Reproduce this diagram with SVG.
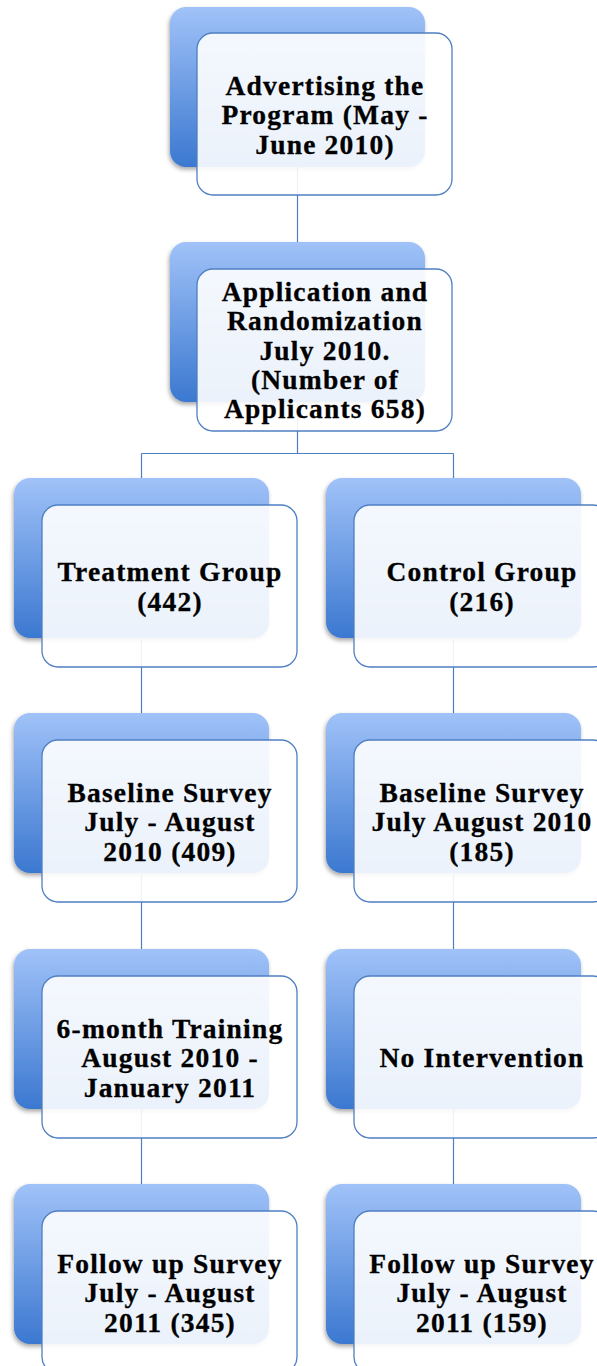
<svg xmlns="http://www.w3.org/2000/svg" width="597" height="1366" viewBox="0 0 597 1366">
<defs>
<linearGradient id="blueGrad" x1="0" y1="0" x2="0" y2="1">
<stop offset="0" stop-color="#a0c2f8"/>
<stop offset="1" stop-color="#3b78d0"/>
</linearGradient>
<filter id="shadow" x="-10%" y="-10%" width="120%" height="125%">
<feDropShadow dx="-1" dy="2.5" stdDeviation="2" flood-color="#000" flood-opacity="0.35"/>
</filter>
<style>
.back{fill:url(#blueGrad);filter:url(#shadow);}
.front{fill:#ffffff;fill-opacity:0.9;stroke:#4f7fc2;stroke-width:1.3;}
.conn{fill:none;stroke:#4f7fc2;stroke-width:1.2;}
.lbl{font-family:"Liberation Serif","Times New Roman",serif;font-weight:bold;font-size:27.5px;letter-spacing:1.2px;fill:#000;stroke:#000;stroke-width:0.3;text-anchor:middle;}
</style>
</defs>
<rect width="597" height="1366" fill="#ffffff"/>

<g id="connectors">
<path class="conn" d="M297.5,167 V242"/>
<path class="conn" d="M297.5,402 V453.5 M141.5,453.5 H453.5 M141.5,453.5 V478 M453.5,453.5 V478"/>
<path class="conn" d="M141.5,639 V713 M141.5,874 V949 M141.5,1110 V1184"/>
<path class="conn" d="M453.5,639 V713 M453.5,874 V949 M453.5,1110 V1184"/>
</g>

<g id="node-advertising">
<rect class="back" x="170" y="7" width="255" height="160" rx="16"/>
<rect class="front" x="197" y="33" width="255" height="162" rx="16"/>
<text class="lbl"><tspan x="325" y="94.5">Advertising the</tspan><tspan x="325" y="124">Program (May -</tspan><tspan x="325" y="153.5">June 2010)</tspan></text>
</g>

<g id="node-application">
<rect class="back" x="170" y="242" width="255" height="160" rx="16"/>
<rect class="front" x="197" y="269" width="255" height="162" rx="16"/>
<text class="lbl"><tspan x="325" y="300.5">Application and</tspan><tspan x="325" y="330">Randomization</tspan><tspan x="325" y="359.5">July 2010.</tspan><tspan x="325" y="388.5">(Number of</tspan><tspan x="325" y="418">Applicants 658)</tspan></text>
</g>

<g id="node-treatment">
<rect class="back" x="14" y="478" width="255" height="160" rx="16"/>
<rect class="front" x="42" y="505" width="255" height="162" rx="16"/>
<text class="lbl"><tspan x="170" y="581">Treatment Group</tspan><tspan x="170" y="610.5">(442)</tspan></text>
</g>

<g id="node-control">
<rect class="back" x="326" y="478" width="255" height="160" rx="16"/>
<rect class="front" x="354" y="505" width="255" height="162" rx="16"/>
<text class="lbl"><tspan x="482" y="581">Control Group</tspan><tspan x="482" y="610.5">(216)</tspan></text>
</g>

<g id="node-baseline-treatment">
<rect class="back" x="14" y="713" width="255" height="160" rx="16"/>
<rect class="front" x="42" y="740" width="255" height="162" rx="16"/>
<text class="lbl"><tspan x="170" y="801.5">Baseline Survey</tspan><tspan x="170" y="831">July - August</tspan><tspan x="170" y="860.5">2010 (409)</tspan></text>
</g>

<g id="node-baseline-control">
<rect class="back" x="326" y="713" width="255" height="160" rx="16"/>
<rect class="front" x="354" y="740" width="255" height="162" rx="16"/>
<text class="lbl"><tspan x="482" y="801.5">Baseline Survey</tspan><tspan x="482" y="831">July August 2010</tspan><tspan x="482" y="860.5">(185)</tspan></text>
</g>

<g id="node-training">
<rect class="back" x="14" y="949" width="255" height="160" rx="16"/>
<rect class="front" x="42" y="976" width="255" height="162" rx="16"/>
<text class="lbl"><tspan x="170" y="1037.5">6-month Training</tspan><tspan x="170" y="1067">August 2010 -</tspan><tspan x="170" y="1096.5">January 2011</tspan></text>
</g>

<g id="node-no-intervention">
<rect class="back" x="326" y="949" width="255" height="160" rx="16"/>
<rect class="front" x="354" y="976" width="255" height="162" rx="16"/>
<text class="lbl"><tspan x="482" y="1067">No Intervention</tspan></text>
</g>

<g id="node-followup-treatment">
<rect class="back" x="14" y="1184" width="255" height="160" rx="16"/>
<rect class="front" x="42" y="1211" width="255" height="162" rx="16"/>
<text class="lbl"><tspan x="170" y="1272.5">Follow up Survey</tspan><tspan x="170" y="1302">July - August</tspan><tspan x="170" y="1331.5">2011 (345)</tspan></text>
</g>

<g id="node-followup-control">
<rect class="back" x="326" y="1184" width="255" height="160" rx="16"/>
<rect class="front" x="354" y="1211" width="255" height="162" rx="16"/>
<text class="lbl"><tspan x="482" y="1272.5">Follow up Survey</tspan><tspan x="482" y="1302">July - August</tspan><tspan x="482" y="1331.5">2011 (159)</tspan></text>
</g>
</svg>
